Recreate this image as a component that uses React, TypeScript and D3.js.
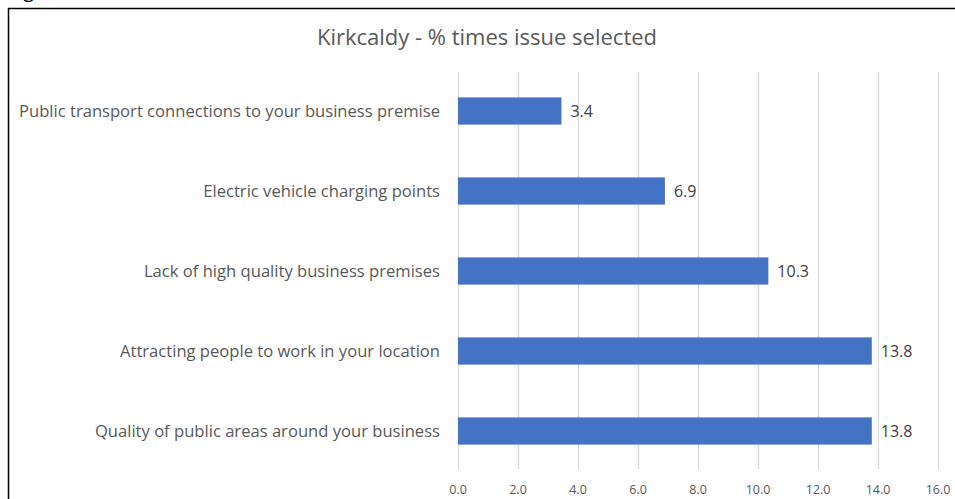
import React, { useEffect, useRef } from 'react';
import * as d3 from 'd3';

const categories = [
  'Public transport connections to your business premise',
  'Electric vehicle charging points',
  'Lack of high quality business premises',
  'Attracting people to work in your location',
  'Quality of public areas around your business',
];
const values = [3.448, 6.897, 10.345, 13.793, 13.793];
const xTicks = [0, 2, 4, 6, 8, 10, 12, 14, 16];
const title = 'Kirkcaldy - % times issue selected';

const W = 955;
const H = 499;

const App = () => {
  const ref = useRef<SVGSVGElement>(null);

  useEffect(() => {
    const svg = d3.select(ref.current);
    svg.selectAll('*').remove();

    const font = '"Open Sans", "Noto Sans", sans-serif';

    // cut-off caption above the box
    svg.append('text')
      .attr('x', 8)
      .attr('y', -3)
      .style('font-family', font)
      .style('font-size', '20px')
      .attr('fill', '#000')
      .text('Figure');

    // chart frame
    svg.append('rect')
      .attr('x', 8.5)
      .attr('y', 8.5)
      .attr('width', 960)
      .attr('height', 520)
      .attr('fill', '#fff')
      .attr('stroke', '#000')
      .attr('stroke-width', 1.5);

    const x = d3.scaleLinear().domain([0, 16]).range([458, 938]);
    const y = d3.scaleBand<string>()
      .domain(categories)
      .range([71, 471])
      .paddingInner(0.66)
      .paddingOuter(0.33);

    // gridlines
    svg.append('g')
      .selectAll('line')
      .data(xTicks)
      .enter().append('line')
      .attr('x1', d => Math.round(x(d)) + 0.5)
      .attr('x2', d => Math.round(x(d)) + 0.5)
      .attr('y1', 72)
      .attr('y2', 469)
      .attr('stroke', '#d9d9d9')
      .attr('stroke-width', 1.3);

    // tick labels
    svg.append('g')
      .selectAll('text')
      .data(xTicks)
      .enter().append('text')
      .attr('x', d => x(d))
      .attr('y', 494)
      .attr('text-anchor', 'middle')
      .style('font-family', font)
      .style('font-size', '12.5px')
      .attr('fill', '#595959')
      .text(d => d.toFixed(1));

    // category labels
    svg.append('g')
      .selectAll('text')
      .data(categories)
      .enter().append('text')
      .attr('x', 440)
      .attr('y', d => (y(d) as number) + y.bandwidth() / 2)
      .attr('dy', '0.35em')
      .attr('text-anchor', 'end')
      .style('font-family', font)
      .style('font-size', '16.6px')
      .attr('fill', '#595959')
      .text(d => d);

    // bars
    svg.append('g')
      .selectAll('rect')
      .data(values)
      .enter().append('rect')
      .attr('x', x(0))
      .attr('y', (d, i) => y(categories[i]) as number)
      .attr('width', d => x(d) - x(0))
      .attr('height', y.bandwidth())
      .attr('fill', '#4472c4');

    // value labels
    svg.append('g')
      .selectAll('text')
      .data(values)
      .enter().append('text')
      .attr('x', d => x(d) + 9)
      .attr('y', (d, i) => (y(categories[i]) as number) + y.bandwidth() / 2)
      .attr('dy', '0.35em')
      .style('font-family', font)
      .style('font-size', '16px')
      .attr('fill', '#404040')
      .text(d => d.toFixed(1));

    // title
    svg.append('text')
      .attr('x', 487)
      .attr('y', 45)
      .attr('text-anchor', 'middle')
      .style('font-family', font)
      .style('font-size', '22px')
      .attr('fill', '#595959')
      .text(title);
  }, []);

  return (
    <svg
      ref={ref}
      width={W}
      height={H}
      style={{ position: 'absolute', left: 0, top: 0, background: '#fff' }}
    />
  );
};

export default App;
